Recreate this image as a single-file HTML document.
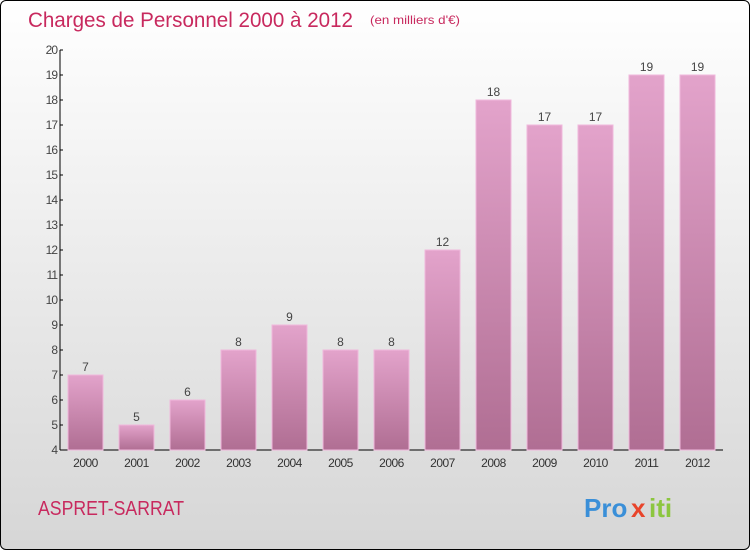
<!DOCTYPE html>
<html><head><meta charset="utf-8"><style>
body{margin:0}
#c{position:relative;width:748px;height:548px;border:1px solid #000;border-radius:6px;overflow:hidden;background:linear-gradient(#fff,#d6d6d6);font-family:"Liberation Sans",sans-serif}
</style></head><body>
<div id="c">
<svg width="748" height="548">
<defs><linearGradient id="g" x1="0" y1="0" x2="0" y2="1"><stop offset="0" stop-color="#e3a3cb"/><stop offset="1" stop-color="#b06e93"/></linearGradient></defs>
<text x="27" y="26" font-size="21" fill="#c8295e" textLength="325" lengthAdjust="spacingAndGlyphs">Charges de Personnel 2000 à 2012</text>
<text x="369" y="23" font-size="12" fill="#c8295e" textLength="90" lengthAdjust="spacingAndGlyphs">(en milliers d'€)</text>
<text x="37" y="514" font-size="20" fill="#c8295e" textLength="146" lengthAdjust="spacingAndGlyphs">ASPRET-SARRAT</text>
<g font-size="26" font-weight="bold"><text x="583" y="516" fill="#3a8fd8">Pro</text><text x="630" y="516" fill="#e8442a">x</text><text x="648" y="516" fill="#8cc63f">iti</text></g>
<g id="ax"></g><g id="bars"></g>
</svg></div>
<script>
const years=["2000","2001","2002","2003","2004","2005","2006","2007","2008","2009","2010","2011","2012"];
const values=[7,5,6,8,9,8,8,12,18,17,17,19,19];
const yTicks=[4,5,6,7,8,9,10,11,12,13,14,15,16,17,18,19,20];
const NS="http://www.w3.org/2000/svg";
const x0=59,slot=51,yMin=4,yMax=20,yTop=49,yBot=449;
const y=v=>yBot-(v-yMin)/(yMax-yMin)*(yBot-yTop);
const xc=i=>x0+slot*(i+0.5);
function mk(t,a,p,txt){const e=document.createElementNS(NS,t);for(const k in a)e.setAttribute(k,a[k]);if(txt!=null)e.textContent=txt;p.appendChild(e);return e;}
const ax=document.getElementById('ax'),bars=document.getElementById('bars');
let l=mk('line',{x1:x0,y1:yTop,x2:x0,y2:yBot,stroke:'#000'},ax);


l=mk('line',{x1:x0,y1:yBot,x2:722,y2:yBot,stroke:'#000'},ax);


yTicks.forEach(v=>{mk('line',{x1:x0,y1:y(v),x2:x0+3,y2:y(v),stroke:'#000'},ax);
const t=mk('text',{x:x0-3,y:y(v)+4,'font-size':12,'text-anchor':'end',fill:'#444','letter-spacing':'-1'},ax,v);

});
years.forEach((yr,i)=>{const v=values[i];
const r=mk('rect',{x:xc(i)-17.5,y:y(v),width:35,height:yBot-y(v),fill:'url(#g)',stroke:'#f0b8dc','stroke-width':1},bars);


const t=mk('text',{x:xc(i),y:y(v)-4,'font-size':12,'text-anchor':'middle',fill:'#444'},bars,v);


const xl=mk('text',{x:xc(i),y:466,'font-size':12,'text-anchor':'middle',fill:'#333','letter-spacing':'-0.5'},ax,yr);

});
</script>
</body></html>
